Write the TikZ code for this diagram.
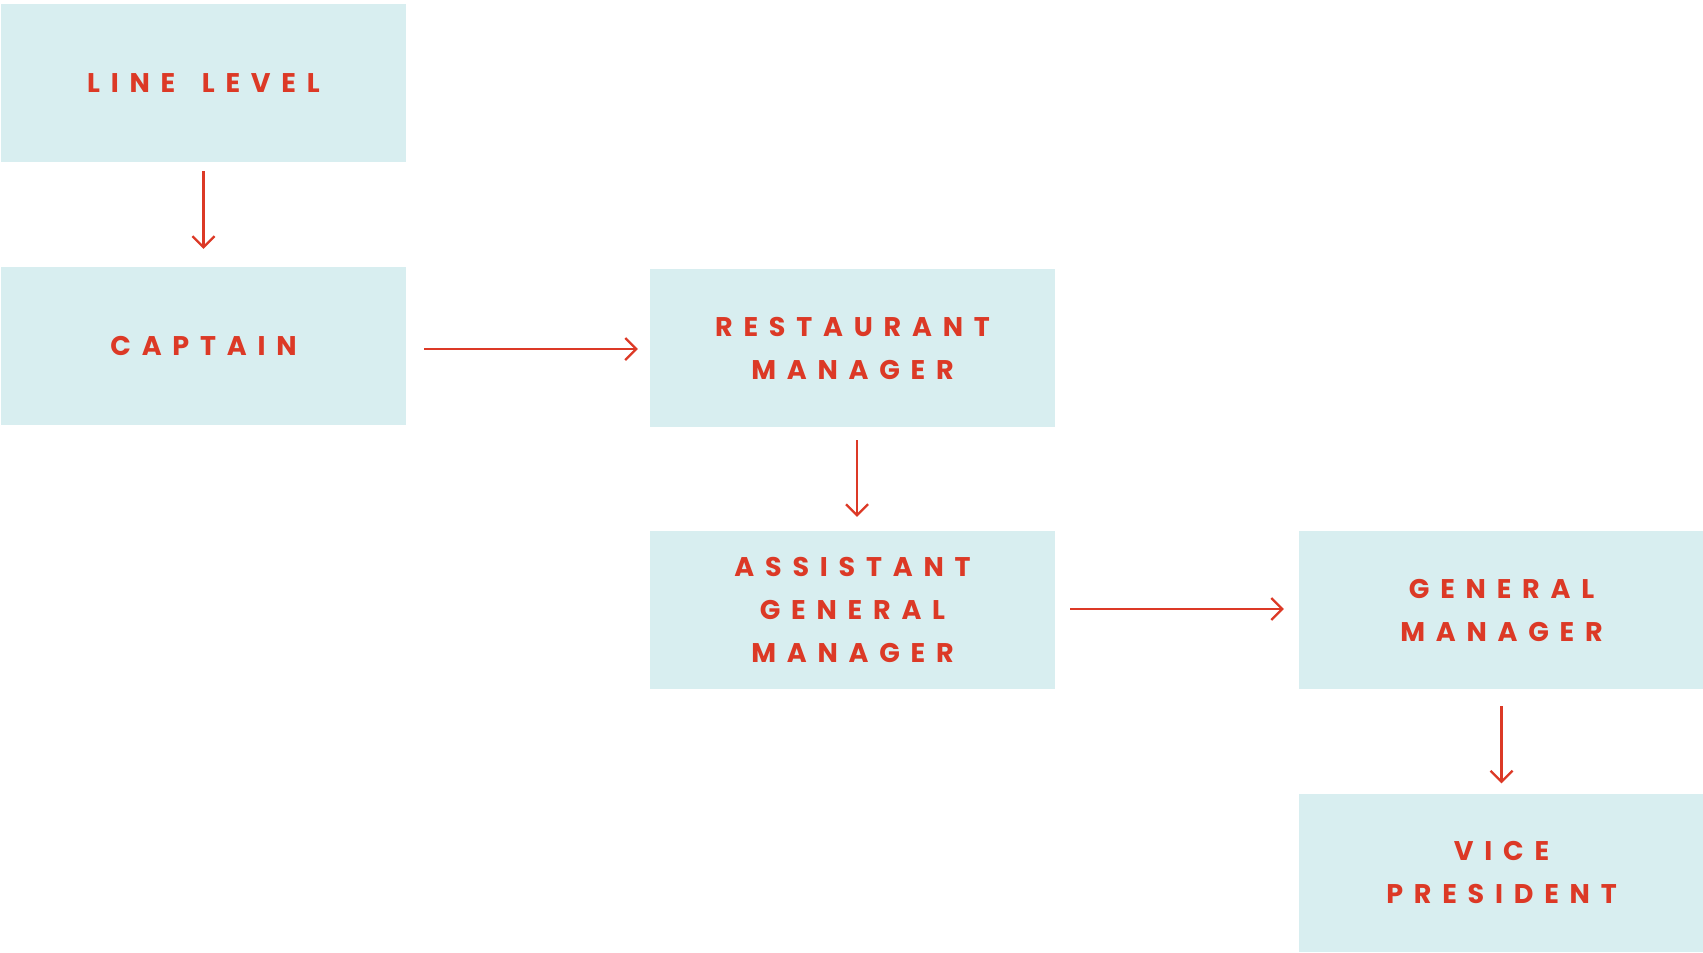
\documentclass[tikz,border=0pt]{standalone}
\usepackage{fontspec}
\newfontfamily\labfont{Poppins}[LetterSpace=40]
\usetikzlibrary{arrows.meta}
\definecolor{boxfill}{RGB}{216,238,240}
\definecolor{labred}{RGB}{220,57,38}
\tikzset{
  box/.style={rectangle, fill=boxfill, draw=none, minimum width=405pt, minimum height=158pt, inner sep=0pt,
    text=labred, align=center, font=\labfont\bfseries\fontsize{27}{43}\selectfont},
  arr/.style={draw=labred, line width=2.2pt, -{Straight Barb[length=11pt,width=22pt,line width=2.2pt]}}
}
\begin{document}
\begin{tikzpicture}[x=1pt,y=-1pt]
\useasboundingbox (0,0) rectangle (1703,953);
\node[box] (ll)  at (203.5,83)   {LINE\hspace{10pt} LEVEL};
\node[box] (cap) at (203.5,346)  {CAPTAIN};
\node[box] (rm)  at (852.5,348)  {RESTAURANT\\MANAGER};
\node[box] (agm) at (852.5,610)  {ASSISTANT\\GENERAL\\MANAGER};
\node[box] (gm)  at (1501.5,610) {GENERAL\\MANAGER};
\node[box] (vp)  at (1501.5,872.5) {VICE\\PRESIDENT};
\draw[arr] ([yshift=-9pt]ll.south) -- ([yshift=18pt]cap.north);
\draw[arr] ([xshift=18pt,yshift=-3pt]cap.east) -- ([xshift=-12pt,yshift=-1pt]rm.west);
\draw[arr] ([xshift=4.5pt,yshift=-13pt]rm.south) -- ([xshift=4.5pt,yshift=14pt]agm.north);
\draw[arr] ([xshift=15pt,yshift=1pt]agm.east) -- ([xshift=-15pt,yshift=1pt]gm.west);
\draw[arr] ([yshift=-17pt]gm.south) -- ([yshift=10pt]vp.north);
\end{tikzpicture}
\end{document}
